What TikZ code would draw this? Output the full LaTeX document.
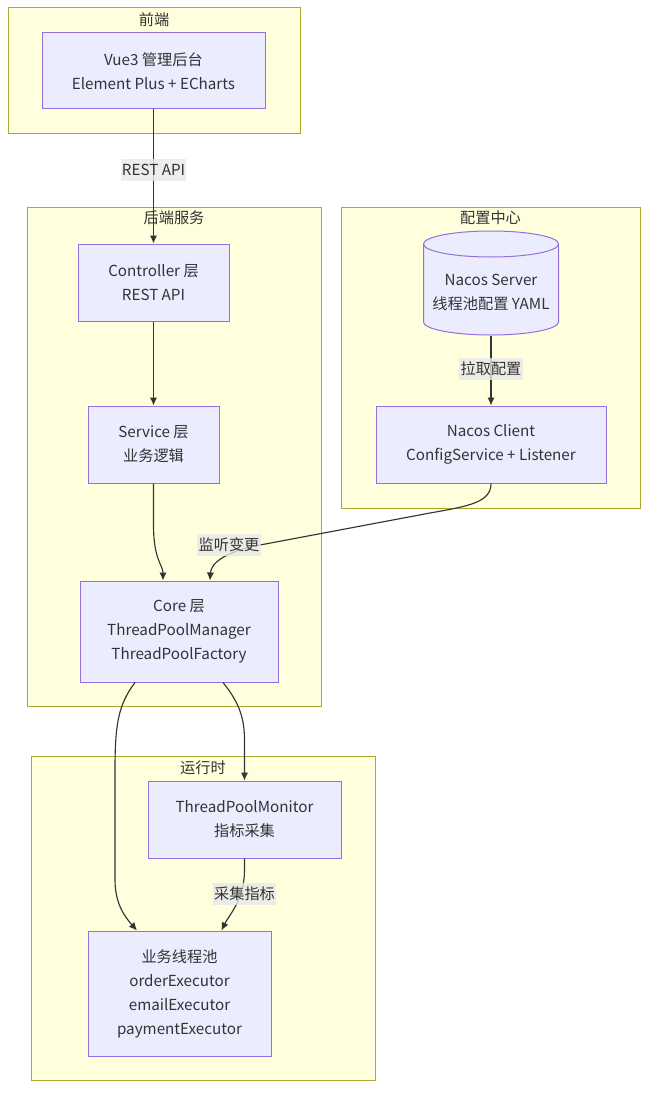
\documentclass[tikz,border=0pt]{standalone}
\usepackage{fontspec}
\setmainfont{Noto Sans CJK SC}
\usetikzlibrary{calc,fit,arrows.meta}
\definecolor{clfill}{HTML}{FFFFDE}
\definecolor{cldraw}{HTML}{AAAA33}
\definecolor{ndfill}{HTML}{ECECFF}
\definecolor{nddraw}{HTML}{9370DB}
\definecolor{txt}{HTML}{333333}
\definecolor{lblbg}{HTML}{E8E8E8}
\tikzset{
  cluster/.style={draw=cldraw,fill=clfill,line width=.75pt,inner sep=0pt},
  cltitle/.style={text=txt,inner sep=0pt},
  box/.style={draw=nddraw,fill=ndfill,line width=.75pt,align=center,text=txt,inner sep=0pt},
  edgelbl/.style={fill=lblbg,fill opacity=.8,text opacity=1,text=txt,inner xsep=1pt,inner ysep=0pt,minimum height=16.5pt},
  flow/.style={->,draw=txt}
}
\begin{document}
\begin{tikzpicture}[x=.75pt,y=-.75pt,line width=.85pt,>={Latex[length=6pt,width=5.5pt]},
font=\fontsize{11.4}{18}\selectfont]
\useasboundingbox (0,0) rectangle (657,1102);
\node[cluster,fit={(8,8)(300,134)}] (fe) {};
\node[cluster,fit={(27,207)(321,706)}] (be) {};
\node[cluster,fit={(341,207)(640,508)}] (cfg) {};
\node[cluster,fit={(31,756)(375,1080)}] (rt) {};
\node[cltitle] (fet) at (154,20) {前端};
\node[cltitle] (bet) at (174,218) {后端服务};
\node[cltitle] (cfgt) at (490.5,218) {配置中心};
\node[cltitle] (rtt) at (203,768) {运行时};
\node[box,minimum width=167.25pt,minimum height=57pt] (vue) at (153.5,71) {Vue3 管理后台\\Element Plus + ECharts};
\node[box,minimum width=113.25pt,minimum height=57.75pt] (ctrl) at (153.5,282.5) {Controller 层\\REST API};
\node[box,minimum width=98.25pt,minimum height=57.75pt] (svc) at (153.5,444.5) {Service 层\\业务逻辑};
\node[box,minimum width=148.5pt,minimum height=75.75pt] (core) at (179,631.5) {Core 层\\ThreadPoolManager\\ThreadPoolFactory};
\coordinate (srvc) at (491,283);
\draw[draw=nddraw,fill=ndfill,line width=.75pt] ($(srvc)+(-67.5,-39)$) -- ($(srvc)+(-67.5,39)$)
  arc[start angle=180,end angle=360,x radius=50.625pt,y radius=9.75pt] -- ($(srvc)+(67.5,-39)$)
  arc[start angle=0,end angle=180,x radius=50.625pt,y radius=9.75pt] -- cycle;
\draw[draw=nddraw,line width=.75pt] ($(srvc)+(-67.5,-39)$) arc[start angle=180,end angle=360,x radius=50.625pt,y radius=9.75pt];
\node[align=center,text=txt,inner sep=0pt,minimum width=101.25pt,minimum height=64.5pt] (srv) at (491,292) {Nacos Server\\线程池配置 YAML};
\node[box,minimum width=172.5pt,minimum height=57.75pt] (client) at (491,444.5) {Nacos Client\\ConfigService + Listener};
\node[box,minimum width=144.75pt,minimum height=57.75pt] (mon) at (244.5,819.5) {ThreadPoolMonitor\\指标采集};
\node[box,minimum width=137.25pt,minimum height=93.75pt] (exec) at (179.5,993.5) {业务线程池\\orderExecutor\\emailExecutor\\paymentExecutor};
\draw[flow] (vue) -- (ctrl);
\draw[flow] (ctrl) -- (svc);
\draw[flow] (svc.south) -- (153.5,525) .. controls (153.5,560) and (163,565) .. ($(core.north)+(-16,0)$);
\draw[flow] (srv.south) -- (client.north);
\draw[flow] (client.south) .. controls (491,502) and (470,506) .. (430,513) -- (260,545)
  .. controls (228,551) and (211,562) .. ($(core.north)+(31,0)$);
\draw[flow] ($(core.south)+(44,0)$) .. controls (237,700) and (244.5,715) .. (244.5,740) -- (mon.north);
\draw[flow] ($(core.south)+(-44,0)$) .. controls (118,705) and (115,725) .. (115,770) -- (115,880)
  .. controls (115,905) and (126,918) .. ($(exec.north)+(-42.5,0)$);
\draw[flow] (mon.south) -- (244.5,870) .. controls (244.5,900) and (229,915) .. ($(exec.north)+(42,0)$);
\node[edgelbl] (l1) at (153.5,170) {REST API};
\node[edgelbl] (l2) at (491,369) {拉取配置};
\node[edgelbl] (l3) at (229,545) {监听变更};
\node[edgelbl] (l4) at (244.5,894) {采集指标};
\end{tikzpicture}
\end{document}
